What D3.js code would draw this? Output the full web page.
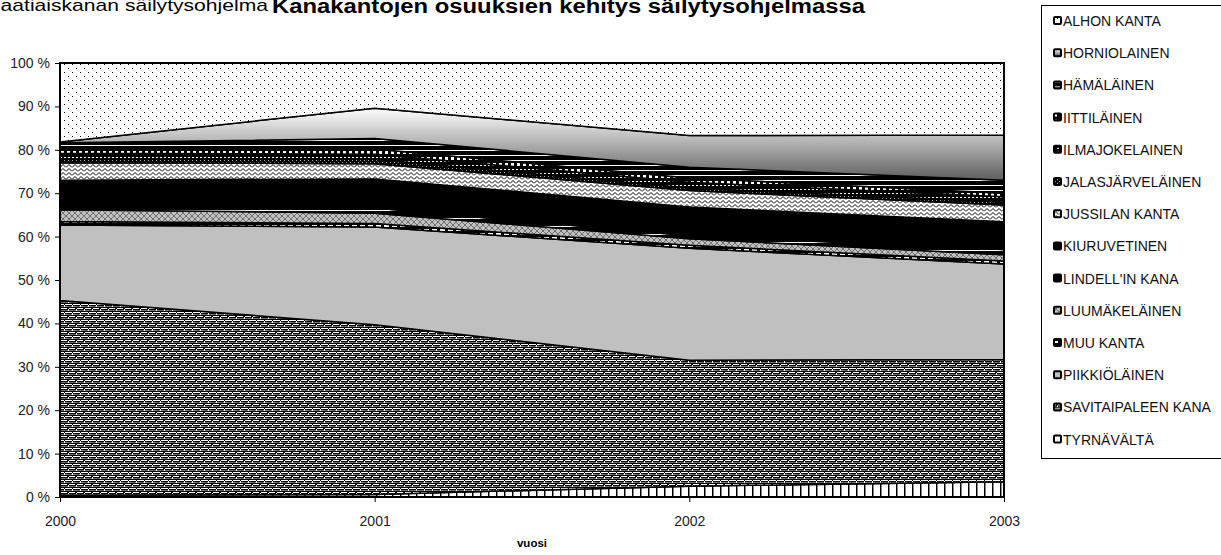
<!DOCTYPE html>
<html>
<head>
<meta charset="utf-8">
<script src="https://cdn.jsdelivr.net/npm/d3@7"></script>
<style>
  body { margin: 0; background: #fff; }
  svg { display: block; font-family: Arial, "Liberation Sans", sans-serif; }
</style>
</head>
<body>
<div id="chart"></div>
<script>
// vuodet
var years = [2000, 2001, 2002, 2003];

// sarjat, legendan järjestyksessä (ylin ensin)
var seriesNames = ["ALHON KANTA", "HORNIOLAINEN", "HÄMÄLÄINEN", "IITTILÄINEN",
    "ILMAJOKELAINEN", "JALASJÄRVELÄINEN", "JUSSILAN KANTA", "KIURUVETINEN",
    "LINDELL'IN KANA", "LUUMÄKELÄINEN", "MUU KANTA", "PIIKKIÖLÄINEN",
    "SAVITAIPALEEN KANA", "TYRNÄVÄLTÄ"];

// osuudet prosentteina vuosittain
var alhon = [18.2, 10.4, 16.7, 16.6];
var hornio = [0.2, 7.0, 7.3, 10.4];
var hamala = [1.4, 2.4, 2.5, 3.0];
var iitti = [1.0, 1.2, 1.0, 0.8];
var ilmajoki = [1.2, 1.2, 1.3, 1.2];
var jalasjarvi = [1.0, 1.0, 0.6, 0.7];
var jussila = [4.0, 3.5, 3.8, 3.9];
var kiuruvesi = [5.8, 6.7, 6.6, 6.4];
var lindell = [1.0, 1.2, 0.7, 1.2];
var luumaki = [2.7, 2.4, 1.5, 1.4];
var muu = [0.8, 0.8, 0.7, 0.7];
var piikkio = [17.4, 22.5, 25.8, 22.0];
var savitaipale = [44.9, 39.1, 29.0, 28.2];
var tyrnava = [0.4, 0.6, 2.5, 3.5];

var yTicks = [0, 0.1, 0.2, 0.3, 0.4, 0.5, 0.6, 0.7, 0.8, 0.9, 1];

var allValues = [alhon, hornio, hamala, iitti, ilmajoki, jalasjarvi, jussila,
    kiuruvesi, lindell, luumaki, muu, piikkio, savitaipale, tyrnava];

var rows = years.map(function(y, i) {
    var r = { year: y };
    seriesNames.forEach(function(n, j) { r[n] = allValues[j][i]; });
    return r;
});

var width = 1221, height = 555;
var plotLeft = 60, plotRight = 1004, plotTop = 63, plotBottom = 497;

var svg = d3.select("#chart")
    .append("svg")
    .attr("width", width)
    .attr("height", height);

var defs = svg.append("defs");

function pattern(id, w, h, bg) {
    var p = defs.append("pattern")
        .attr("id", id)
        .attr("patternUnits", "userSpaceOnUse")
        .attr("width", w)
        .attr("height", h);
    p.append("rect").attr("width", w).attr("height", h).attr("fill", bg);
    return p;
}

// pisteet
var pDots = pattern("p0", 8, 8, "#fff");
pDots.append("rect").attr("x", 0).attr("y", 0).attr("width", 1).attr("height", 1).attr("fill", "#000");
pDots.append("rect").attr("x", 4).attr("y", 4).attr("width", 1).attr("height", 1).attr("fill", "#000");

// liukuväri
var grad = defs.append("linearGradient")
    .attr("id", "p1")
    .attr("x1", 0).attr("y1", 0).attr("x2", 0).attr("y2", 1);
grad.append("stop").attr("offset", "0%").attr("stop-color", "#ffffff");
grad.append("stop").attr("offset", "100%").attr("stop-color", "#5e5e5e");

// vaakaviivat
var pH = pattern("p2", 6, 5, "#000");
pH.append("rect").attr("width", 6).attr("height", 1).attr("fill", "#fff");

// valkoiset neliöt
var pSq = pattern("p3", 6, 6, "#000");
pSq.append("rect").attr("x", 1).attr("y", 1).attr("width", 3).attr("height", 3).attr("fill", "#fff");

// katkoviiva
var pDash = pattern("p4", 4, 4, "#000");
pDash.append("rect").attr("x", 0).attr("y", 1).attr("width", 2).attr("height", 1).attr("fill", "#fff");

// harmaat pisteet
var pGd = pattern("p5", 4, 4, "#000");
pGd.append("rect").attr("x", 0).attr("y", 0).attr("width", 1).attr("height", 1).attr("fill", "#aaa");
pGd.append("rect").attr("x", 2).attr("y", 2).attr("width", 1).attr("height", 1).attr("fill", "#aaa");

// siksak
var pZig = pattern("p6", 6, 4, "#fff");
pZig.append("path").attr("d", "M0,3.5 L3,0.5 L6,3.5").attr("fill", "none").attr("stroke", "#000").attr("stroke-width", 1);

// musta
defs.append("pattern").attr("id", "p7").attr("patternUnits", "userSpaceOnUse").attr("width", 4).attr("height", 4)
    .append("rect").attr("width", 4).attr("height", 4).attr("fill", "#000");

// valkoinen viiva mustalla
var pLine = pattern("p8", 8, 8, "#000");
pLine.append("rect").attr("y", 2).attr("width", 8).attr("height", 1).attr("fill", "#fff");

// ristikko
var pX = pattern("p9", 6, 6, "#c0c0c0");
pX.append("path").attr("d", "M0,0 L6,6 M6,0 L0,6").attr("stroke", "#707070").attr("stroke-width", 1);

// katkoviiva valkoinen
var pMuu = pattern("p10", 8, 4, "#000");
pMuu.append("rect").attr("x", 0).attr("y", 1).attr("width", 5).attr("height", 2).attr("fill", "#fff");

// tiili
var pBrick = pattern("p12", 8, 8, "#000");
pBrick.append("rect").attr("x", 1).attr("y", 0).attr("width", 7).attr("height", 1).attr("fill", "#fff");
pBrick.append("rect").attr("x", 5).attr("y", 4).attr("width", 7).attr("height", 1).attr("fill", "#fff");
pBrick.append("rect").attr("x", 0).attr("y", 4).attr("width", 3).attr("height", 1).attr("fill", "#fff");
pBrick.append("rect").attr("y", 2).attr("width", 8).attr("height", 1).attr("fill", "#6e6e6e");
pBrick.append("rect").attr("y", 6).attr("width", 8).attr("height", 1).attr("fill", "#6e6e6e");
pBrick.append("rect").attr("x", 0).attr("y", 1).attr("width", 1).attr("height", 2).attr("fill", "#fff");
pBrick.append("rect").attr("x", 4).attr("y", 5).attr("width", 1).attr("height", 2).attr("fill", "#fff");

// pystyviivat
var pV = pattern("p13", 8, 4, "#fff");
pV.append("rect").attr("x", 0).attr("width", 1).attr("height", 4).attr("fill", "#000");
pV.append("rect").attr("x", 1).attr("width", 1).attr("height", 4).attr("fill", "#888");

var fills = ["url(#p0)", "url(#p1)", "url(#p2)", "url(#p3)", "url(#p4)", "url(#p5)",
    "url(#p6)", "url(#p7)", "url(#p8)", "url(#p9)", "url(#p10)", "#c0c0c0",
    "url(#p12)", "url(#p13)"];

var x = d3.scaleLinear().domain([2000, 2003]).range([plotLeft, plotRight]);
var y = d3.scaleLinear().domain([0, 1]).range([plotBottom, plotTop]);

// pinotaan alimmasta ylöspäin
var stackKeys = seriesNames.slice().reverse();
var stacked = d3.stack()
    .keys(stackKeys)
    .offset(d3.stackOffsetExpand)(rows);

var area = d3.area()
    .x(function(d) { return x(d.data.year); })
    .y0(function(d) { return y(d[0]); })
    .y1(function(d) { return y(d[1]); });

svg.append("g")
    .selectAll("path")
    .data(stacked)
    .enter()
    .append("path")
    .attr("d", area)
    .attr("fill", function(d) { return fills[seriesNames.indexOf(d.key)]; })
    .attr("stroke", "#000")
    .attr("stroke-width", 1.5)
    .attr("stroke-linejoin", "round");

// kehys
svg.append("rect")
    .attr("x", plotLeft)
    .attr("y", plotTop)
    .attr("width", plotRight - plotLeft)
    .attr("height", plotBottom - plotTop)
    .attr("fill", "none")
    .attr("stroke", "#000")
    .attr("stroke-width", 2);

// akselit
var yAxis = svg.append("g")
    .attr("transform", "translate(" + plotLeft + ",0)")
    .call(d3.axisLeft(y)
        .tickValues(yTicks)
        .tickFormat(function(d) { return Math.round(d * 100) + " %"; })
        .tickSize(5)
        .tickPadding(5));
yAxis.select(".domain").remove();
yAxis.selectAll("text")
    .style("font-size", "14px")
    .style("font-family", "Arial, 'Liberation Sans', sans-serif")
    .attr("fill", "#222");

var xAxis = svg.append("g")
    .attr("transform", "translate(0," + plotBottom + ")")
    .call(d3.axisBottom(x)
        .tickValues(years)
        .tickFormat(d3.format("d"))
        .tickSize(5)
        .tickPadding(14));
xAxis.select(".domain").remove();
xAxis.selectAll("text")
    .style("font-size", "14px")
    .style("font-family", "Arial, 'Liberation Sans', sans-serif")
    .attr("fill", "#222");

svg.append("text")
    .attr("x", (plotLeft + plotRight) / 2)
    .attr("y", 547)
    .attr("text-anchor", "middle")
    .style("font-size", "11.5px")
    .style("font-weight", "bold")
    .text("vuosi");

// otsikot
svg.append("text")
    .attr("x", -17)
    .attr("y", 11)
    .attr("textLength", 285)
    .attr("lengthAdjust", "spacingAndGlyphs")
    .style("font-size", "17px")
    .text("Maatiaiskanan säilytysohjelma");

svg.append("text")
    .attr("x", 272)
    .attr("y", 13)
    .attr("textLength", 593)
    .attr("lengthAdjust", "spacingAndGlyphs")
    .style("font-size", "20px")
    .style("font-weight", "bold")
    .text("Kanakantojen osuuksien kehitys säilytysohjelmassa");

// selite
var legend = svg.append("g");
legend.append("rect")
    .attr("x", 1041.5)
    .attr("y", 5.5)
    .attr("width", 200)
    .attr("height", 453)
    .attr("fill", "#fff")
    .attr("stroke", "#000")
    .attr("stroke-width", 1);

var items = legend.selectAll("g.item")
    .data(seriesNames)
    .enter()
    .append("g")
    .attr("class", "item")
    .attr("transform", function(d, i) { return "translate(1053," + (22 + i * 32.2) + ")"; });

items.append("rect")
    .attr("x", 1)
    .attr("y", -5)
    .attr("width", 7)
    .attr("height", 7)
    .attr("rx", 1)
    .attr("fill", function(d, i) { return fills[i]; })
    .attr("stroke", "#000")
    .attr("stroke-width", 2);

items.append("text")
    .attr("x", 10)
    .attr("y", 4)
    .style("font-size", "14px")
    .attr("fill", "#111")
    .text(function(d) { return d; });
</script>
</body>
</html>
